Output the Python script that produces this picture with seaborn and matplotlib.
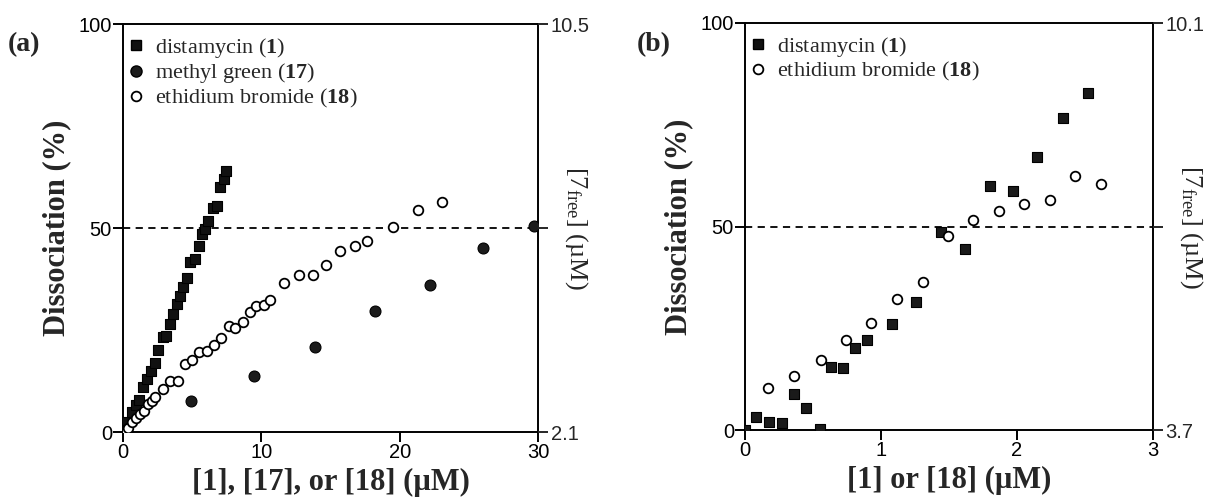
import matplotlib
matplotlib.use("Agg")
import matplotlib.pyplot as plt
import seaborn as sns
import numpy as np
import pandas as pd
from matplotlib.lines import Line2D

# ---------------- data ----------------
# panel (a)
a_dist_x = [0.0, 0.31, 0.63, 0.94, 1.18, 1.47, 1.72, 2.0, 2.32, 2.56, 2.87, 3.1, 3.4, 3.65,
            3.89, 4.13, 4.37, 4.66, 4.86, 5.2, 5.46, 5.7, 5.94, 6.18, 6.54, 6.79, 7.03, 7.27, 7.46]
a_dist_y = [0.0, 2.4, 4.8, 6.5, 7.9, 11.0, 13.0, 15.0, 17.0, 20.0, 23.2, 23.6, 26.5, 28.9,
            31.4, 33.4, 35.5, 37.7, 41.6, 42.4, 45.7, 48.5, 49.8, 51.8, 55.0, 55.5, 60.0, 62.0, 64.0]
a_mg_x = [4.9, 9.44, 13.9, 18.2, 22.2, 26.0, 29.7]
a_mg_y = [7.5, 13.8, 20.9, 29.7, 36.0, 45.0, 50.6]
a_eb_x = [0.15, 0.39, 0.63, 0.94, 1.23, 1.52, 1.84, 2.08, 2.32, 2.87, 3.4, 3.94, 4.49, 4.98,
          5.51, 6.06, 6.59, 7.1, 7.63, 8.12, 8.67, 9.15, 9.64, 10.17, 10.65, 11.67, 12.71,
          13.72, 14.71, 15.72, 16.74, 17.66, 19.54, 21.33, 23.09]
a_eb_y = [0.4, 1.1, 2.4, 3.4, 4.4, 5.2, 6.9, 7.7, 8.5, 10.5, 12.6, 12.6, 16.7, 17.7,
          19.5, 19.9, 21.3, 23.0, 26.0, 25.5, 26.9, 29.3, 31.0, 31.2, 32.4, 36.5, 38.6,
          38.5, 41.0, 44.3, 45.5, 46.9, 50.3, 54.3, 56.4]

# panel (b)
b_dist_x = [0.0, 0.08, 0.18, 0.27, 0.36, 0.45, 0.55, 0.63, 0.72, 0.81, 0.90, 1.08, 1.26,
            1.44, 1.62, 1.80, 1.97, 2.15, 2.34, 2.52]
b_dist_y = [0.0, 3.2, 2.0, 1.7, 8.9, 5.5, 0.2, 15.5, 15.2, 20.2, 22.0, 26.1, 31.4,
            48.6, 44.5, 60.0, 58.7, 67.1, 76.7, 82.8]
b_eb_x = [0.17, 0.36, 0.56, 0.74, 0.93, 1.12, 1.31, 1.49, 1.68, 1.87, 2.05, 2.24, 2.43, 2.62]
b_eb_y = [10.3, 13.2, 17.3, 22.1, 26.3, 32.3, 36.4, 47.6, 51.7, 53.7, 55.6, 56.6, 62.5, 60.4]

a_xticks = [0, 10, 20, 30]
b_xticks = [0, 1, 2, 3]
y_ticks = [0, 50, 100]
a_right = (2.1, 10.5)
b_right = (3.7, 10.1)

# ---------------- style ----------------
sns.set_style("ticks")
plt.rcParams['font.family'] = ['Liberation Sans', 'DejaVu Sans']
plt.rcParams['mathtext.fontset'] = 'custom'
plt.rcParams['mathtext.rm'] = 'Liberation Serif'
plt.rcParams['mathtext.it'] = 'Liberation Serif:italic'
plt.rcParams['mathtext.bf'] = 'Liberation Serif:bold'

SERIF = ['Liberation Serif', 'DejaVu Serif']
SANS = ['Liberation Sans', 'DejaVu Sans']

fig = plt.figure(figsize=(12.12, 5.04), dpi=100)
W, H = 1212, 504


def add_axes(l, r, t, b):
    return fig.add_axes([l / W, 1 - b / H, (r - l) / W, (b - t) / H])


axA = add_axes(123, 538, 24, 432)
axB = add_axes(745, 1153, 23, 430)


def scatter(ax, xs, ys, kind):
    df = pd.DataFrame({"x": xs, "y": ys})
    if kind == "sq":
        sns.scatterplot(data=df, x="x", y="y", ax=ax, marker="s", s=62,
                        color="#111111", edgecolor="black", linewidth=0.8, zorder=3)
    elif kind == "sq_b":
        sns.scatterplot(data=df, x="x", y="y", ax=ax, marker="s", s=58,
                        color="#1a1a1a", edgecolor="black", linewidth=0.8, zorder=3)
    elif kind == "mg":
        sns.scatterplot(data=df, x="x", y="y", ax=ax, marker="o", s=62,
                        color="#1c1c1c", edgecolor="black", linewidth=0.8, zorder=3)
    else:
        sns.scatterplot(data=df, x="x", y="y", ax=ax, marker="o", s=48,
                        facecolor="white", edgecolor="black", linewidth=1.3, zorder=4)


def style_axes(ax, xmax, xticks, right, label):
    ax.set_xlim(0, xmax)
    ax.set_ylim(0, 100)
    ax.set_xticks(xticks)
    ax.set_yticks(y_ticks)
    ax.set_xticklabels([str(v) for v in xticks], fontfamily=SANS)
    ax.set_yticklabels([str(v) for v in y_ticks], fontfamily=SANS)
    for s in ax.spines.values():
        s.set_visible(True)
        s.set_linewidth(1.4)
        s.set_color("black")
    ax.tick_params(axis="both", direction="out", length=7, width=1.4,
                   labelsize=14.5, pad=1, colors="black")
    ax.set_xlabel(label, fontfamily=SERIF, fontweight="bold", fontsize=22, labelpad=4)
    ax.set_ylabel("Dissociation (%)", fontfamily=SERIF, fontweight="bold",
                  fontsize=22, labelpad=5)
    ax.axhline(50, ls=(0, (4, 3)), color="black", lw=1.3, zorder=1)
    ax2 = ax.twinx()
    ax2.set_ylim(*right)
    mid = (right[0] + right[1]) / 2
    ax2.set_yticks([right[0], mid, right[1]])
    ax2.set_yticklabels([f"{right[0]:.1f}", "", f"{right[1]:.1f}"], fontfamily=SANS)
    ax2.tick_params(axis="y", direction="out", length=7, width=1.4, labelsize=14.5, pad=2)
    for s in ax2.spines.values():
        s.set_visible(False)
    ax2.set_ylabel(r"[7$_{\rm free}$] (µM)", fontfamily=SERIF, fontsize=19,
                   rotation=270, labelpad=0)
    return ax2


scatter(axA, a_eb_x, a_eb_y, "eb")
scatter(axA, a_mg_x, a_mg_y, "mg")
scatter(axA, a_dist_x, a_dist_y, "sq")
style_axes(axA, 30, a_xticks, a_right, "[1], [17], or [18] (µM)")

scatter(axB, b_eb_x, b_eb_y, "eb")
scatter(axB, b_dist_x, b_dist_y, "sq_b")
style_axes(axB, 3, b_xticks, b_right, "[1] or [18] (µM)")

h_sq = Line2D([], [], ls="none", marker="s", ms=7, mfc="#111111", mec="black")
h_mg = Line2D([], [], ls="none", marker="o", ms=8, mfc="#1c1c1c", mec="black")
h_eb = Line2D([], [], ls="none", marker="o", ms=7, mfc="white", mec="black", mew=1.3)

leg_kw = dict(loc="upper left", bbox_to_anchor=(-0.027, 1.003), frameon=False,
              prop={"family": SERIF, "size": 16}, handletextpad=0.35,
              handlelength=1.0, labelspacing=0.06, borderaxespad=0.2)
axA.legend([h_sq, h_mg, h_eb],
           [r"distamycin ($\mathbf{1}$)", r"methyl green ($\mathbf{17}$)",
            r"ethidium bromide ($\mathbf{18}$)"], **leg_kw)
axB.legend([h_sq, h_eb],
           [r"distamycin ($\mathbf{1}$)", r"ethidium bromide ($\mathbf{18}$)"], **leg_kw)

fig.text(8 / W, 1 - 45 / H, "(a)", fontfamily=SERIF, fontweight="bold",
         fontsize=20, va="center", ha="left")
fig.text(637 / W, 1 - 45 / H, "(b)", fontfamily=SERIF, fontweight="bold",
         fontsize=20, va="center", ha="left")

fig.savefig("out.png", dpi=100)
